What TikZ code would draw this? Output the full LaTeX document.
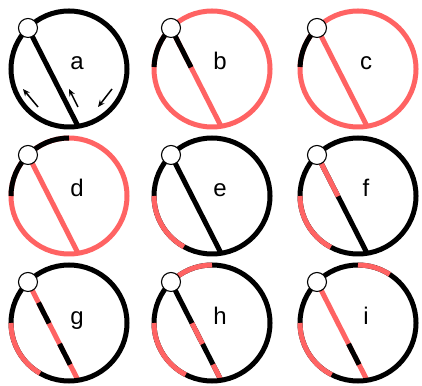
\documentclass[tikz,border=0pt]{standalone}
\usepackage{fontspec}
\setmainfont{Liberation Sans}
\usetikzlibrary{arrows.meta, calc}
\definecolor{ered}{RGB}{255,99,99}
% arc of a wheel: centre, start angle, end angle, colour
\newcommand{\rimarc}[4]{\draw[rim, #4] ($(#1)+(#2:58)$) arc[start angle=#2, end angle=#3, radius=58];}

\begin{document}
\begin{tikzpicture}[x=1pt, y=1pt,
      rim/.style={line width=5pt},
      knob/.style={circle, draw, fill=white, line width=1.1pt, inner sep=0pt, minimum size=19pt},
      lbl/.style={anchor=base, font=\fontsize{24}{28}\selectfont},
      arr/.style={-{Stealth[length=7pt, width=6pt]}, line width=1.5pt}
    ]
      \useasboundingbox (0,0) rectangle (422,385);

      % centres, pivots and chord ends of the nine wheels
      \foreach \n/\x/\y in {a/69/316, b/212/316, c/358/316,
                            d/69/189, e/212/189, f/358/189,
                            g/69/62,  h/212/62,  i/358/62} {
        \coordinate (c\n) at (\x,\y);
        \coordinate (p\n) at ($(c\n)+(135:58)$);
        \coordinate (e\n) at ($(c\n)+(279:58)$);
      }

      % a
      \draw[rim] (pa) -- (ea);
      \draw[rim] (ca) circle[radius=58];
      \draw[arr] (38,278) -- (23,296);
      \draw[arr] (78,278) -- (69,296);
      \draw[arr] (112,296) -- (98,278);

      % b
      \draw[rim, ered] (pb) -- (eb);
      \draw[rim] (pb) -- ($(pb)!0.4!(eb)$);
      \draw[rim, ered] (cb) circle[radius=58];
      \rimarc{cb}{135}{178}{black}

      % c
      \draw[rim, ered] (pc) -- (ec);
      \draw[rim, ered] (cc) circle[radius=58];
      \rimarc{cc}{135}{178}{black}

      % d
      \draw[rim, ered] (pd) -- (ed);
      \draw[rim, ered] (cd) circle[radius=58];
      \rimarc{cd}{90}{180}{black}

      % e
      \draw[rim] (pe) -- (ee);
      \draw[rim] (ce) circle[radius=58];
      \rimarc{ce}{180}{241}{ered}

      % f
      \draw[rim] (pf) -- (ef);
      \draw[rim, ered] (pf) -- ($(pf)!0.42!(ef)$);
      \draw[rim] (cf) circle[radius=58];
      \rimarc{cf}{180}{242}{ered}

      % g
      \draw[rim, ered] (pg) -- (eg);
      \draw[rim] ($(pg)!0.21!(eg)$) -- ($(pg)!0.42!(eg)$);
      \draw[rim] ($(pg)!0.63!(eg)$) -- ($(pg)!0.84!(eg)$);
      \draw[rim] (cg) circle[radius=58];
      \rimarc{cg}{180}{240}{ered}

      % h
      \draw[rim] (ph) -- (eh);
      \draw[rim, ered] ($(ph)!0.42!(eh)$) -- ($(ph)!0.63!(eh)$);
      \draw[rim, ered] ($(ph)!0.84!(eh)$) -- (eh);
      \draw[rim] (ch) circle[radius=58];
      \rimarc{ch}{90}{135}{ered}
      \rimarc{ch}{180}{243}{ered}

      % i
      \draw[rim, ered] (pi) -- (ei);
      \draw[rim] ($(pi)!0.63!(ei)$) -- ($(pi)!0.84!(ei)$);
      \draw[rim] (ci) circle[radius=58];
      \rimarc{ci}{57}{90}{ered}
      \rimarc{ci}{180}{243}{ered}

      % pivots and letters
      \foreach \n in {a,b,c,d,e,f,g,h,i} {
        \node[knob] (k\n) at (p\n) {};
        \node[lbl] (l\n) at ($(c\n)+(8,-1)$) {\n};
      }
    \end{tikzpicture}
\end{document}
